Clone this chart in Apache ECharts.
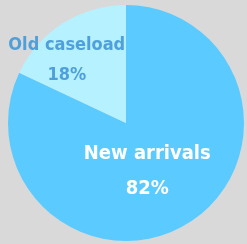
<!DOCTYPE html>
<html>
<head>
<meta charset="utf-8">
<script src="https://cdn.jsdelivr.net/npm/echarts@6/dist/echarts.min.js"></script>
<style>
  html, body { margin: 0; padding: 0; background: #D9D9D9; }
  #chart { width: 247px; height: 244px; }
</style>
</head>
<body>
<div id="chart"></div>
<script>
var categories = ["New arrivals", "Old caseload"];
var values = [82, 18];
var sliceColors = ["#5BCBFF", "#B5F1FF"];
var labelColors = ["#FFFFFF", "#4FA0DA"];
var labelSizes = [20, 18];
var labelLineHeights = [35, 30];
// label nudges from the default inner position
var labelShift = [[-12, -4], [-26, -10]];

var font = "'DejaVu Sans Condensed', sans-serif";

var chart = echarts.init(document.getElementById("chart"), null, { renderer: "canvas" });

var data = categories.map(function (name, i) {
  return {
    name: name,
    value: values[i],
    itemStyle: { color: sliceColors[i] },
    label: {
      color: labelColors[i],
      fontSize: labelSizes[i],
      lineHeight: labelLineHeights[i]
    }
  };
});

chart.setOption({
  backgroundColor: "#D9D9D9",
  animation: false,
  series: [
    {
      type: "pie",
      center: [126, 123],
      radius: 118,
      startAngle: 90,
      clockwise: true,
      data: data,
      label: {
        show: true,
        position: "inner",
        fontFamily: font,
        fontWeight: "bold",
        formatter: function (p) {
          return p.name + "\n" + p.value + "%";
        }
      },
      labelLine: { show: false },
      labelLayout: function (params) {
        var s = labelShift[params.dataIndex];
        return { dx: s[0], dy: s[1] };
      },
      emphasis: { disabled: true }
    }
  ]
});
</script>
</body>
</html>
